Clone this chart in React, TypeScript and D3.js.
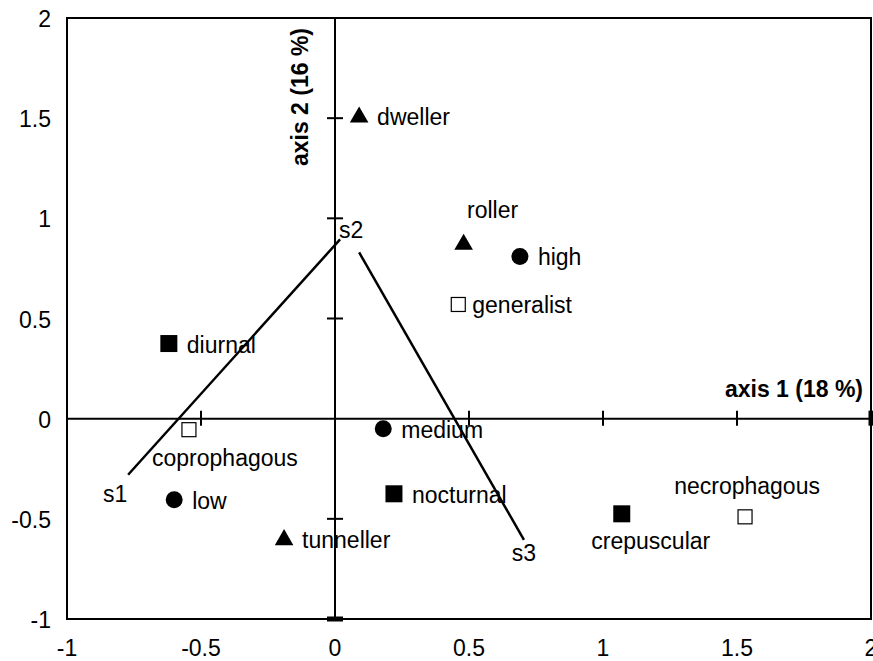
import React from 'react';
import * as d3 from 'd3';

// trait scores on the two ordination axes
const traitNames = ['dweller', 'roller', 'high', 'generalist', 'diurnal', 'coprophagous', 'low', 'medium', 'nocturnal', 'tunneller', 'crepuscular', 'necrophagous'];
const axis1Scores = [0.09, 0.48, 0.69, 0.46, -0.62, -0.545, -0.6, 0.18, 0.22, -0.19, 1.07, 1.53];
const axis2Scores = [1.51, 0.875, 0.81, 0.57, 0.375, -0.055, -0.405, -0.05, -0.375, -0.6, -0.475, -0.49];
const traitGroups = ['nesting', 'nesting', 'size', 'diet', 'activity', 'diet', 'size', 'size', 'activity', 'nesting', 'activity', 'diet'];

// site segments (s1 -> s2 -> s3)
const segStartX = [-0.772, 0.09];
const segStartY = [-0.28, 0.83];
const segEndX = [0.019, 0.705];
const segEndY = [0.895, -0.605];
const siteNames = ['s1', 's2', 's3'];
const siteX = [-0.82, 0.06, 0.705];
const siteY = [-0.375, 0.94, -0.67];

const tickValues = [-1, -0.5, 0, 0.5, 1, 1.5, 2];
const axis1Title = 'axis 1 (18 %)';
const axis2Title = 'axis 2 (16 %)';

const W = 873;
const H = 661;
const FONT = '"Liberation Sans", Arial, sans-serif';
const FS = 23;

// where each label sits relative to its marker
const labelPlacement: Record<string, [number, number, string]> = {
  roller: [29, -33, 'middle'],
  coprophagous: [36, 28, 'middle'],
  crepuscular: [29, 27, 'middle'],
  necrophagous: [2, -31, 'middle'],
};

const App = () => {
  const x = d3.scaleLinear().domain([-1, 2]).range([67, 871]);
  const y = d3.scaleLinear().domain([-1, 2]).range([619, 18]);

  const tri = d3.symbol().type(d3.symbolTriangle).size(150)();

  const marker = (group: string, cx: number, cy: number, key: number) => {
    if (group === 'nesting') return <path key={key} d={tri!} transform={`translate(${cx},${cy + 1})`} fill="#000" />;
    if (group === 'size') return <circle key={key} cx={cx} cy={cy} r={8.5} fill="#000" />;
    if (group === 'activity') return <rect key={key} x={cx - 8.5} y={cy - 8.5} width={17} height={17} fill="#000" />;
    return <rect key={key} x={cx - 7} y={cy - 7} width={14} height={14} fill="#fff" stroke="#000" strokeWidth={1.2} />;
  };

  return (
    <svg width={W} height={H} style={{ position: 'absolute', left: 0, top: 0, background: '#fff' }} fontFamily={FONT}>
      {/* frame */}
      <rect x={x(-1)} y={y(2)} width={x(2) - x(-1)} height={y(-1) - y(2)} fill="none" stroke="#000" strokeWidth={2} />

      {/* axes through origin */}
      <line x1={x(-1)} x2={x(2)} y1={y(0)} y2={y(0)} stroke="#000" strokeWidth={2} />
      <line x1={x(0)} x2={x(0)} y1={y(-1)} y2={y(2)} stroke="#000" strokeWidth={2} />
      {tickValues.filter((v) => v !== 0).map((v) => (
        <line key={'tx' + v} x1={x(v)} x2={x(v)} y1={y(0) - 8} y2={y(0) + 7} stroke="#000" strokeWidth={v === 2 ? 5 : 2} />
      ))}
      {tickValues.filter((v) => v !== 0 && v !== 2).map((v) => (
        <line key={'ty' + v} x1={x(0) - 8} x2={x(0) + 8} y1={y(v)} y2={y(v)} stroke="#000" strokeWidth={v === -1 ? 5 : 2} />
      ))}

      {/* tick labels */}
      {tickValues.map((v) => (
        <text key={'lx' + v} x={x(v)} y={648} textAnchor="middle" dominantBaseline="central" fontSize={FS}>{String(v)}</text>
      ))}
      {tickValues.map((v) => (
        <text key={'ly' + v} x={51} y={y(v) + 1} textAnchor="end" dominantBaseline="central" fontSize={FS}>{String(v)}</text>
      ))}

      {/* axis titles */}
      <text x={863} y={389} textAnchor="end" dominantBaseline="central" fontSize={23} fontWeight="bold">{axis1Title}</text>
      <text transform={`translate(300,97) rotate(-90)`} textAnchor="middle" dominantBaseline="central" fontSize={23} fontWeight="bold">{axis2Title}</text>

      {/* site segments */}
      {segStartX.map((sx, i) => (
        <line key={'seg' + i} x1={x(sx)} y1={y(segStartY[i])} x2={x(segEndX[i])} y2={y(segEndY[i])} stroke="#000" strokeWidth={2.5} />
      ))}
      {siteNames.map((s, i) => (
        <text key={s} x={x(siteX[i])} y={y(siteY[i])} textAnchor="middle" dominantBaseline="central" fontSize={FS}>{s}</text>
      ))}

      {/* traits */}
      {traitNames.map((name, i) => {
        const cx = x(axis1Scores[i]);
        const cy = y(axis2Scores[i]);
        const p = labelPlacement[name];
        return (
          <g key={name}>
            {marker(traitGroups[i], cx, cy, i)}
            {p ? (
              <text x={cx + p[0]} y={cy + p[1]} textAnchor={p[2] as any} dominantBaseline="central" fontSize={FS}>{name}</text>
            ) : (
              <text x={cx + (traitGroups[i] === 'diet' ? 14 : 18)} y={cy + 1} dominantBaseline="central" fontSize={FS}>{name}</text>
            )}
          </g>
        );
      })}
    </svg>
  );
};

export default App;
